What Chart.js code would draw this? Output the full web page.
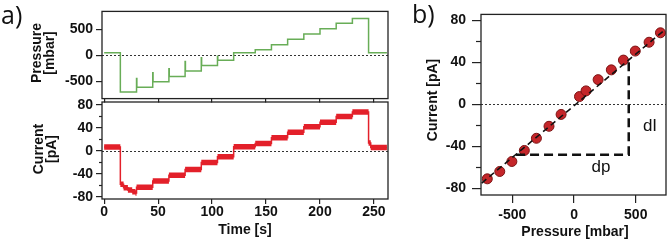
<!DOCTYPE html>
<html>
<head>
<meta charset="utf-8">
<script src="https://cdn.jsdelivr.net/npm/chart.js@4.4.1/dist/chart.umd.min.js"></script>
<style>
  body { margin: 0; background: #fff; }
  #wrap { position: relative; width: 672px; height: 240px; overflow: hidden; font-family: 'Liberation Sans', Arial, sans-serif; color: #111; }
  canvas { position: absolute; }
  .t { position: absolute; white-space: nowrap; line-height: 1; }
  .b { font-weight: bold; font-size: 14px; }
  .rot { transform: translate(-50%, -50%) rotate(-90deg); }
  .mid { transform: translate(-50%, -50%); }
  .pl { font-family: 'Open Sans', sans-serif; font-size: 25px; }
  .ann { font-size: 17px; }
</style>
</head>
<body>
<div id="wrap">
  <canvas id="pChart" width="400" height="110" style="left:0;top:0"></canvas>
  <canvas id="cChart" width="400" height="150" style="left:0;top:90px"></canvas>
  <canvas id="fitChart" width="272" height="240" style="left:400px;top:0"></canvas>

  <div class="t pl" style="left:1px;top:2px">a)</div>
  <div class="t pl" style="left:412px;top:1px">b)</div>
  <div class="t b rot" style="left:36px;top:53px">Pressure</div>
  <div class="t b rot" style="left:49px;top:53px">[mbar]</div>
  <div class="t b rot" style="left:38px;top:149px">Current</div>
  <div class="t b rot" style="left:51px;top:149px">[pA]</div>
  <div class="t b mid" style="left:245px;top:229px">Time [s]</div>
  <div class="t b rot" style="left:432px;top:100px">Current [pA]</div>
  <div class="t b mid" style="left:575px;top:231px">Pressure [mbar]</div>
  <div class="t ann mid" style="left:650px;top:125px">dI</div>
  <div class="t ann mid" style="left:601px;top:166px">dp</div>
</div>
<script>
// panel a: applied pressure and measured current, stepped every ~15 s
const stepTimes     = [0, 15, 30, 45, 60, 75, 90, 105, 120, 140, 155, 170, 185, 200, 215, 230, 245, 262];
const pressureSteps = [45, -710, -615, -510, -410, -305, -200, -100, 45, 105, 200, 305, 405, 505, 610, 705, 45, 45];
const pressureSpikes = [null, null, -450, -340, -260, -120, -50, -20, null, null, null, null, null, null, null, null, null, null];
const currentSteps  = [7, -58, -63, -52, -42, -32, -20, -10, 7.5, 13, 23, 32.5, 42, 50, 60, 68, 14, 6];
// slow settling of the current right after the first pressure drop
const settleTimes   = [18, 22, 26, 29, 247];
const settleCurrent = [-64, -68, -71, -73, 6];

const timeTicks = [0, 50, 100, 150, 200, 250];
const pressureTicks = [-500, 0, 500];
const currentTicks = [-80, -40, 0, 40, 80];
const currentMinor = [-60, -20, 20, 60];

// panel b: mean current at each pressure step
const fitPressure = [-703, -602, -504, -403, -305, -203, -105, 44, 97, 195, 302, 400, 496, 608, 700];
const fitCurrent  = [-71, -64, -54.5, -44, -32.4, -21, -9.7, 7.3, 12.7, 23.4, 32.7, 42, 50.6, 59, 68];
const lineP = [-748, 737];
const lineI = [-75, 71];
const bracketP = [-470, 443, 443];
const bracketI = [-48, -48, 40];
const bPressureTicks = [-500, 0, 500];

Chart.defaults.font.family = "'Liberation Sans', Arial, sans-serif";
Chart.defaults.font.size = 14;
Chart.defaults.font.weight = 'bold';
Chart.defaults.color = '#111';

const pressureData = [];
const currentData = [];
stepTimes.forEach((t, i) => {
  if (pressureSpikes[i] != null) {
    pressureData.push({ x: t, y: pressureSpikes[i] });
    pressureData.push({ x: t + 0.3, y: pressureSteps[i] });
  } else {
    pressureData.push({ x: t, y: pressureSteps[i] });
  }
  currentData.push({ x: t, y: currentSteps[i] });
});
settleTimes.forEach((t, i) => currentData.push({ x: t, y: settleCurrent[i] }));
currentData.sort((a, b) => a.x - b.x);

// noisy current band: thick flat pieces, broken at each jump
const bandData = [];
for (let i = 0; i < currentData.length - 1; i++) {
  const a = currentData[i], b = currentData[i + 1];
  bandData.push({ x: a.x, y: a.y }, { x: b.x, y: a.y }, { x: b.x, y: null });
}

const framePlugin = {
  id: 'frame',
  beforeDatasetsDraw(chart) {
    const { ctx, chartArea: a, scales } = chart;
    const y0 = Math.round(scales.y.getPixelForValue(0)) + 0.5;
    ctx.save();
    ctx.strokeStyle = '#333';
    ctx.lineWidth = 1;
    ctx.setLineDash([2, 2]);
    ctx.beginPath();
    ctx.moveTo(a.left, y0);
    ctx.lineTo(a.right, y0);
    ctx.stroke();
    ctx.restore();
  },
  afterDraw(chart, args, opts) {
    const { ctx, chartArea: a, scales } = chart;
    ctx.save();
    ctx.strokeStyle = '#222';
    ctx.lineWidth = 1.3;
    ctx.strokeRect(a.left, a.top, a.right - a.left, a.bottom - a.top);
    ctx.lineWidth = 1.2;
    (opts.minorY || []).forEach(v => {
      const y = Math.round(scales.y.getPixelForValue(v)) + 0.5;
      ctx.beginPath();
      ctx.moveTo(a.left - opts.minorLen, y);
      ctx.lineTo(a.left, y);
      ctx.stroke();
    });
    ctx.restore();
  }
};

function axis(min, max, tickVals, tickLen, pad, showLabels, fit) {
  return {
    type: 'linear', min: min, max: max,
    afterBuildTicks: s => { s.ticks = tickVals.map(v => ({ value: v })); },
    ticks: { display: showLabels, padding: pad, maxRotation: 0, autoSkip: false },
    grid: { drawOnChartArea: false, drawTicks: true, tickLength: tickLen, color: '#222', lineWidth: 1.2 },
    border: { display: false },
    afterFit: fit
  };
}

const common = {
  responsive: false, animation: false, devicePixelRatio: 1,
  plugins: { legend: { display: false }, tooltip: { enabled: false } }
};

new Chart(document.getElementById('pChart'), {
  type: 'line',
  data: { datasets: [{ data: pressureData, stepped: true, borderColor: '#68ad57', borderWidth: 1.5, pointRadius: 0 }] },
  options: {
    ...common,
    layout: { padding: { top: 4, right: 12, left: 0, bottom: 0 } },
    plugins: { ...common.plugins, frame: {} },
    scales: {
      x: axis(-2, 263, timeTicks, 4, 0, false, s => { s.height = 9; }),
      y: axis(-835, 840, pressureTicks, 6, 3, true, s => { s.width = 102; })
    }
  },
  plugins: [framePlugin]
});

new Chart(document.getElementById('cChart'), {
  type: 'line',
  data: {
    datasets: [
      { data: currentData, stepped: true, borderColor: '#e3202a', borderWidth: 1.5, pointRadius: 0 },
      { data: bandData, spanGaps: false, borderColor: '#e3202a', borderWidth: 5.5, borderCapStyle: 'butt', pointRadius: 0 }
    ]
  },
  options: {
    ...common,
    layout: { padding: { top: 12, right: 12, left: 0, bottom: 0 } },
    plugins: { ...common.plugins, frame: { minorY: currentMinor, minorLen: 3 } },
    scales: {
      x: axis(-2, 263, timeTicks, 5, 0, true, s => { s.height = 41; }),
      y: axis(-83.5, 85.2, currentTicks, 6, 3, true, s => { s.width = 102; })
    }
  },
  plugins: [framePlugin]
});

new Chart(document.getElementById('fitChart'), {
  type: 'line',
  data: {
    datasets: [
      { data: lineP.map((p, i) => ({ x: p, y: lineI[i] })), borderColor: '#111', borderWidth: 1.6, borderDash: [6, 4], pointRadius: 0 },
      { data: bracketP.map((p, i) => ({ x: p, y: bracketI[i] })), borderColor: '#111', borderWidth: 2.5, borderDash: [9, 5], pointRadius: 0, borderJoinStyle: 'miter' },
      { data: fitPressure.map((p, i) => ({ x: p, y: fitCurrent[i] })), showLine: false, pointRadius: 5, pointBackgroundColor: '#c4262a', pointBorderColor: '#7c1414', pointBorderWidth: 1 }
    ]
  },
  options: {
    ...common,
    layout: { padding: { top: 6, right: 3, left: 0, bottom: 0 } },
    plugins: { ...common.plugins, frame: { minorY: currentMinor, minorLen: 5 } },
    scales: {
      x: axis(-754, 745, bPressureTicks, 8, 4, true, s => { s.height = 45; }),
      y: axis(-86.4, 85.5, currentTicks, 9, 6, true, s => { s.width = 81; })
    }
  },
  plugins: [framePlugin]
});
</script>
</body>
</html>
